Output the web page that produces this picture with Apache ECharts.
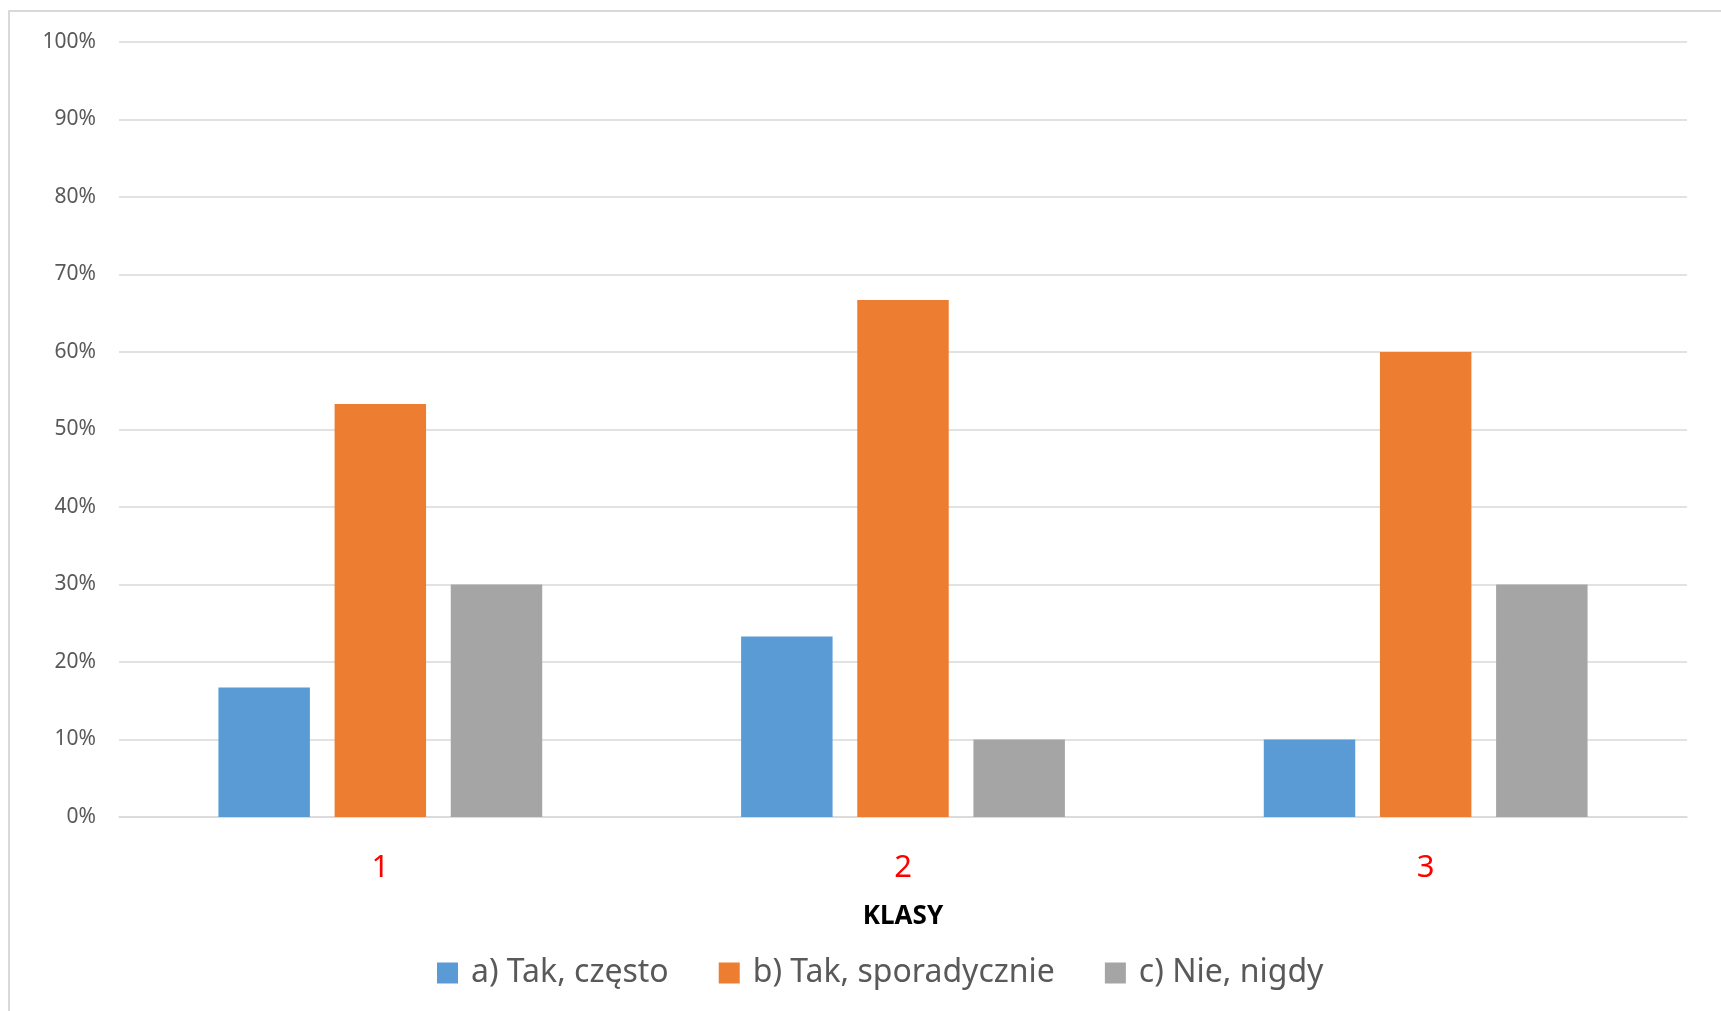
<!DOCTYPE html>
<html>
<head>
<meta charset="utf-8">
<script src="https://cdn.jsdelivr.net/npm/echarts@6/dist/echarts.min.js"></script>
<style>
html,body{margin:0;padding:0;background:#fff;}
#c{width:1721px;height:1011px;}
</style>
</head>
<body>
<div id="c"></div>
<script>
const categories = ['1', '2', '3'];
const seriesNames = ['a) Tak, często', 'b) Tak, sporadycznie', 'c) Nie, nigdy'];
const valuesA = [16.7, 23.3, 10];
const valuesB = [53.3, 66.7, 60];
const valuesC = [30, 10, 30];
const yTicks = [0, 10, 20, 30, 40, 50, 60, 70, 80, 90, 100];
const colors = ['#5B9BD5', '#ED7D31', '#A5A5A5'];
const FONT = '"Noto Sans", sans-serif';

const chart = echarts.init(document.getElementById('c'), null, {renderer: 'canvas'});
const seriesData = [valuesA, valuesB, valuesC];
chart.setOption({
  animation: false,
  backgroundColor: '#fff',
  color: colors,
  graphic: [{
    type: 'rect',
    shape: {x: 9, y: 11, width: 1730, height: 1020},
    style: {fill: 'none', stroke: '#d9d9d9', lineWidth: 2},
    silent: true, z: -1
  }],
  grid: {left: 119, right: 34, top: 42, bottom: 194, containLabel: false},
  legend: {
    left: 437, top: 957, padding: 0,
    itemWidth: 21, itemHeight: 21, itemGap: 50,
    icon: 'rect',
    textStyle: {fontFamily: FONT, fontSize: 32, color: '#595959', padding: [0, 0, 0, 8]},
    data: seriesNames
  },
  xAxis: {
    type: 'category',
    data: categories,
    name: 'KLASY',
    nameLocation: 'middle',
    nameGap: 87,
    nameTextStyle: {fontFamily: FONT, fontSize: 26, fontWeight: 'bold', color: '#000'},
    axisLine: {show: true, lineStyle: {color: '#d9d9d9', width: 1.5}},
    axisTick: {show: false},
    axisLabel: {fontFamily: FONT, fontSize: 31, color: '#FF0000', margin: 36},
    splitLine: {show: false}
  },
  yAxis: {
    type: 'value',
    min: yTicks[0], max: yTicks[yTicks.length - 1], interval: 10,
    axisLine: {show: false},
    axisTick: {show: false},
    axisLabel: {fontFamily: FONT, fontSize: 21, color: '#595959', margin: 23, formatter: '{value}%'},
    splitLine: {lineStyle: {color: '#d9d9d9', width: 1.5}}
  },
  series: seriesNames.map((n, i) => ({
    name: n,
    type: 'bar',
    data: seriesData[i],
    barWidth: '17.5%',
    barGap: '27%',
    itemStyle: {color: colors[i]}
  }))
});
</script>
</body>
</html>
